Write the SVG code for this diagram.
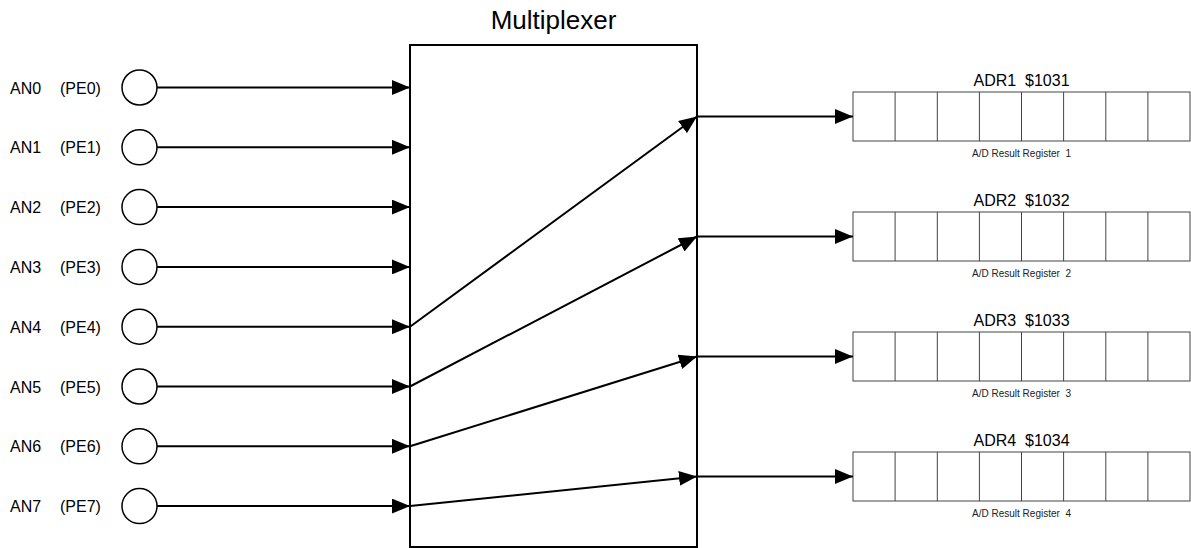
<svg xmlns="http://www.w3.org/2000/svg" width="1191" height="548" viewBox="0 0 1191 548">
<style>
text{font-family:"Liberation Sans",Arial,sans-serif;fill:#000;white-space:pre}
.lbl{font-size:16px}
.title{font-size:26px;text-anchor:middle}
.rt{font-size:16px;text-anchor:middle}
.rs{font-size:10px;text-anchor:middle;fill:#222}
.pin{fill:#fff;stroke:#000;stroke-width:1.5}
.box{fill:#fff;stroke:#000;stroke-width:2}
.reg{fill:#fff;stroke:#444;stroke-width:1}
.cell{stroke:#444;stroke-width:1}
.wire{fill:none;stroke:#000;stroke-width:2;marker-end:url(#ah)}
</style>
<defs>
<marker id="ah" markerUnits="userSpaceOnUse" markerWidth="18" markerHeight="15" refX="18" refY="7.5" orient="auto">
<path d="M0,0 L18,7.5 L0,15 z" fill="#000"/>
</marker>
<g id="regcells">
<rect class="reg" x="0" y="0" width="337" height="49"/>
<path class="cell" d="M42.1,0v49M84.3,0v49M126.4,0v49M168.5,0v49M210.6,0v49M252.8,0v49M294.9,0v49"/>
</g>
</defs>

<g id="mux">
<rect class="box" x="410" y="45" width="287" height="502"/>
<text class="title" x="553.5" y="29">Multiplexer</text>
</g>

<g id="pin0"><text class="lbl" x="10" y="93.5">AN0</text><text class="lbl" x="60" y="93.5">(PE0)</text><circle class="pin" cx="139.5" cy="87.5" r="17.5"/></g>
<g id="pin1"><text class="lbl" x="10" y="153.3">AN1</text><text class="lbl" x="60" y="153.3">(PE1)</text><circle class="pin" cx="139.5" cy="147.3" r="17.5"/></g>
<g id="pin2"><text class="lbl" x="10" y="213.1">AN2</text><text class="lbl" x="60" y="213.1">(PE2)</text><circle class="pin" cx="139.5" cy="207.1" r="17.5"/></g>
<g id="pin3"><text class="lbl" x="10" y="272.9">AN3</text><text class="lbl" x="60" y="272.9">(PE3)</text><circle class="pin" cx="139.5" cy="266.9" r="17.5"/></g>
<g id="pin4"><text class="lbl" x="10" y="332.7">AN4</text><text class="lbl" x="60" y="332.7">(PE4)</text><circle class="pin" cx="139.5" cy="326.7" r="17.5"/></g>
<g id="pin5"><text class="lbl" x="10" y="392.5">AN5</text><text class="lbl" x="60" y="392.5">(PE5)</text><circle class="pin" cx="139.5" cy="386.5" r="17.5"/></g>
<g id="pin6"><text class="lbl" x="10" y="452.3">AN6</text><text class="lbl" x="60" y="452.3">(PE6)</text><circle class="pin" cx="139.5" cy="446.3" r="17.5"/></g>
<g id="pin7"><text class="lbl" x="10" y="512.1">AN7</text><text class="lbl" x="60" y="512.1">(PE7)</text><circle class="pin" cx="139.5" cy="506.1" r="17.5"/></g>

<g id="reg1"><use href="#regcells" x="853" y="92"/><text class="rt" x="1021.5" y="86" xml:space="preserve">ADR1  $1031</text><text class="rs" x="1021.5" y="157" xml:space="preserve">A/D Result Register  1</text></g>
<g id="reg2"><use href="#regcells" x="853" y="212"/><text class="rt" x="1021.5" y="206" xml:space="preserve">ADR2  $1032</text><text class="rs" x="1021.5" y="277" xml:space="preserve">A/D Result Register  2</text></g>
<g id="reg3"><use href="#regcells" x="853" y="332"/><text class="rt" x="1021.5" y="326" xml:space="preserve">ADR3  $1033</text><text class="rs" x="1021.5" y="397" xml:space="preserve">A/D Result Register  3</text></g>
<g id="reg4"><use href="#regcells" x="853" y="452"/><text class="rt" x="1021.5" y="446" xml:space="preserve">ADR4  $1034</text><text class="rs" x="1021.5" y="517" xml:space="preserve">A/D Result Register  4</text></g>

<g id="connectors">
<path class="wire" d="M157,87.5H410"/>
<path class="wire" d="M157,147.3H410"/>
<path class="wire" d="M157,207.1H410"/>
<path class="wire" d="M157,266.9H410"/>
<path class="wire" d="M157,326.7H410"/>
<path class="wire" d="M157,386.5H410"/>
<path class="wire" d="M157,446.3H410"/>
<path class="wire" d="M157,506.1H410"/>
<path class="wire" d="M410,326.7L697,116.5"/>
<path class="wire" d="M410,386.5L697,236.5"/>
<path class="wire" d="M410,446.3L697,356.5"/>
<path class="wire" d="M410,506.1L697,476.5"/>
<path class="wire" d="M697,116.5H853"/>
<path class="wire" d="M697,236.5H853"/>
<path class="wire" d="M697,356.5H853"/>
<path class="wire" d="M697,476.5H853"/>
</g>
</svg>
